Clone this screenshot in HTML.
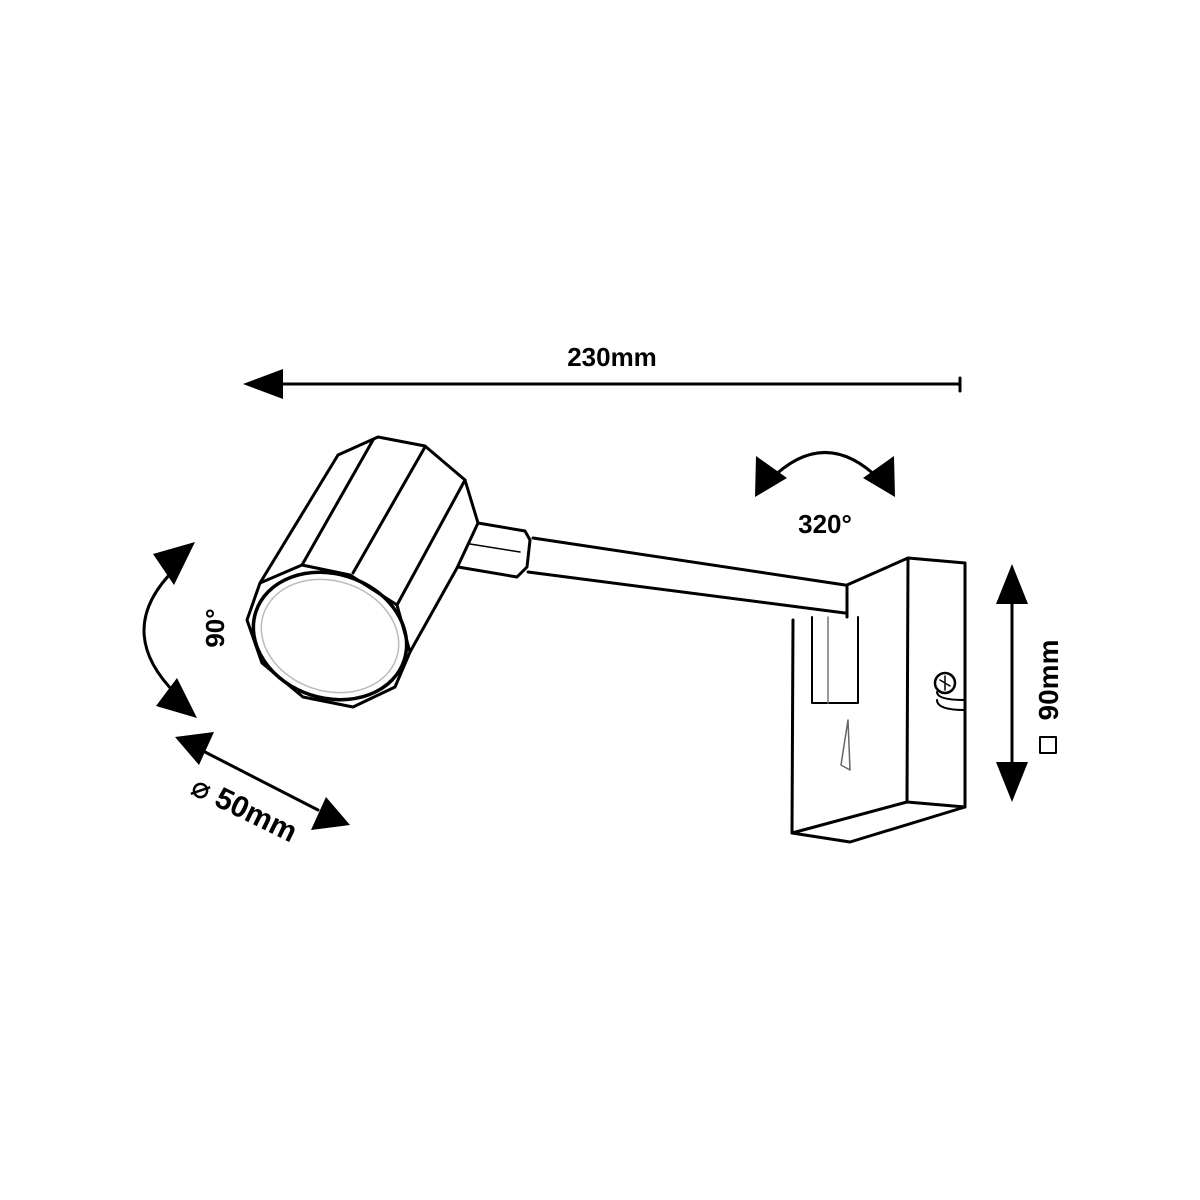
<!DOCTYPE html>
<html><head><meta charset="utf-8"><style>
html,body{margin:0;padding:0;background:#fff;width:1200px;height:1200px;overflow:hidden}
text{font-family:"Liberation Sans","DejaVu Sans",sans-serif;font-weight:bold;fill:#000}
</style></head><body>
<svg width="1200" height="1200" viewBox="0 0 1200 1200" xmlns="http://www.w3.org/2000/svg">
<g fill="none" stroke="#000" stroke-width="3" stroke-linejoin="round" stroke-linecap="round">
<line x1="275" y1="384" x2="960" y2="384"/>
<line x1="960" y1="378" x2="960" y2="391"/>
<path d="M770,480 Q825,425 880,480"/>
<line x1="1012" y1="595" x2="1012" y2="770"/>
<path d="M176,568 Q112,630 176,694"/>
<line x1="205" y1="752" x2="318" y2="810"/>

<path d="M338,455 L378,437 L425,446 L465,480 L478,523 L457,568 L410,652" fill="#fff"/>
<path d="M338,455 L260,583"/>
<path d="M373,440 L302,565"/>
<path d="M425,447 L353,573"/>
<path d="M465,480 L397,605"/>
<path d="M247,620 L260,583 L302,565 L350,575 L397,605 L410,652 L395,687 L353,707 L303,697 L262,663 Z" fill="#fff"/>
<ellipse cx="330" cy="636" rx="78" ry="62" transform="rotate(18 330 636)" stroke-width="3.5"/>
<ellipse cx="330" cy="636" rx="70" ry="55" transform="rotate(18 330 636)" stroke="#bbb" stroke-width="1.5"/>
<path d="M478,523 L525,531 L530,540 L527,567 L517,577 L458,567"/>
<path d="M470,544 L520,552" stroke-width="1.5"/>
<path d="M533,538 L845,585"/>
<path d="M528,572 L845,613"/>
<path d="M847,585 L908,558 L965,563 L965,807 L907,802 L792,833 L793,620"/>
<path d="M847,585 L847,617"/>
<path d="M908,558 L907,802"/>
<path d="M792,833 L850,842 L965,807"/>
<path d="M812,617 L812,703 L858,703 L858,617" stroke-width="2"/>
<path d="M828,617 L828,703" stroke-width="1.5" stroke="#777"/>
<circle cx="945" cy="683" r="10" stroke-width="2.5"/>
<path d="M940,680 L950,686 M945,676 L945,690" stroke-width="1.5"/>
<path d="M937,692 Q937,700 965,700 M937,700 Q937,710 965,710" stroke-width="2"/>
<path d="M848,720 L841,765 L850,770 Z" stroke-width="1.5" stroke="#666"/>
<rect x="1040" y="737" width="16" height="16" stroke-width="2"/>
</g>
<g fill="#000">
<polygon points="243,384 283,369 283,399"/>
<polygon points="755,497 756,456 787,478"/>
<polygon points="895,497 894,456 863,478"/>
<polygon points="1012,564 996,604 1028,604"/>
<polygon points="1012,802 996,762 1028,762"/>
<polygon points="195,542 153,554 174,585"/>
<polygon points="197,718 156,706 177,678"/>
<polygon points="175,737 214,732 199,765"/>
<polygon points="350,825 311,830 326,797"/>
</g>
<text x="612" y="366" font-size="26" text-anchor="middle">230mm</text>
<text x="825" y="533" font-size="26" text-anchor="middle">320°</text>
<text transform="translate(224,628) rotate(-90)" font-size="26" text-anchor="middle">90°</text>
<text transform="translate(1058,680) rotate(-90)" font-size="28" text-anchor="middle">90mm</text>
<text transform="translate(240,818) rotate(26)" font-size="30" text-anchor="middle">⌀ 50mm</text>
</svg>
</body></html>
